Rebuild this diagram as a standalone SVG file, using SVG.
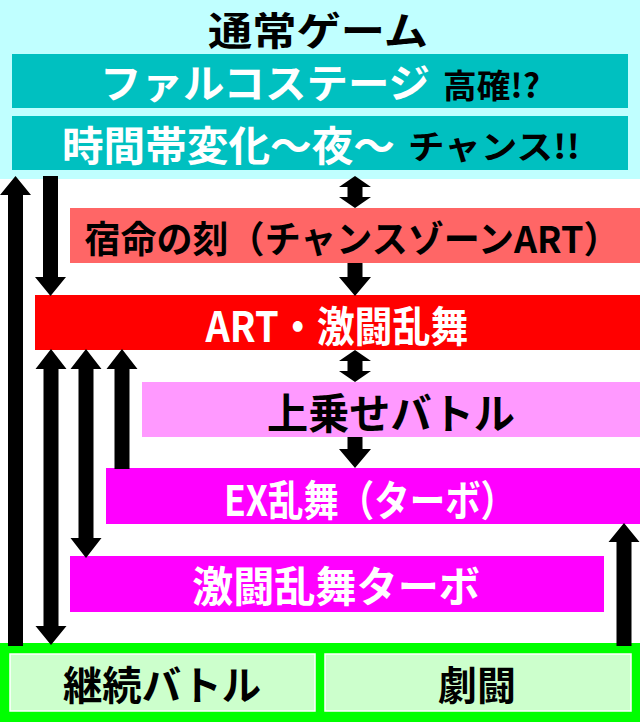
<svg xmlns="http://www.w3.org/2000/svg" width="640" height="722" viewBox="0 0 640 722">
<style>
text{font-family:"Noto Sans CJK JP","Noto Sans",sans-serif;font-weight:700;dominant-baseline:central}
.w{fill:#ffffff}
.b{fill:#000000}
.c{text-anchor:middle}
.arr{fill:#000000}
</style>
<rect x="0" y="0" width="640" height="722" fill="#ffffff"/>
<g id="normal-game">
<rect x="0" y="0" width="640" height="179" fill="#c0ffff"/>
<text class="b c" x="318" y="28" font-size="39" textLength="220" lengthAdjust="spacingAndGlyphs">通常ゲーム</text>
</g>
<g id="falco-stage">
<rect x="12" y="54" width="616" height="54" fill="#00c0c0"/>
<text class="w" x="100" y="81" font-size="40" textLength="330" lengthAdjust="spacingAndGlyphs">ファルコステージ</text>
<text class="b" x="443" y="84" font-size="33" textLength="97" lengthAdjust="spacingAndGlyphs">高確!?</text>
</g>
<g id="night">
<rect x="12" y="116" width="616" height="54" fill="#00c0c0"/>
<text class="w" x="62" y="143" font-size="41" textLength="333" lengthAdjust="spacingAndGlyphs">時間帯変化～夜～</text>
<text class="b" x="408" y="145" font-size="33" textLength="172" lengthAdjust="spacingAndGlyphs">チャンス!!</text>
</g>
<g id="shukumei">
<rect x="70" y="208" width="570" height="55" fill="#ff6666"/>
<text class="b c" x="352" y="237" font-size="37" textLength="535" lengthAdjust="spacingAndGlyphs">宿命の刻（チャンスゾーンART）</text>
</g>
<g id="art">
<rect x="35" y="295" width="605" height="55" fill="#ff0000"/>
<text class="w c" x="337" y="323" font-size="42" textLength="263" lengthAdjust="spacingAndGlyphs">ART・激闘乱舞</text>
</g>
<g id="uwanose">
<rect x="142" y="382" width="498" height="55" fill="#ff99ff"/>
<text class="b c" x="391" y="410" font-size="42" textLength="248" lengthAdjust="spacingAndGlyphs">上乗せバトル</text>
</g>
<g id="ex">
<rect x="106" y="468" width="534" height="56" fill="#ff00ff"/>
<text class="w c" x="370" y="497" font-size="42" textLength="292" lengthAdjust="spacingAndGlyphs">EX乱舞（ターボ）</text>
</g>
<g id="turbo">
<rect x="70" y="556" width="534" height="56" fill="#ff00ff"/>
<text class="w c" x="336" y="583" font-size="42" textLength="288" lengthAdjust="spacingAndGlyphs">激闘乱舞ターボ</text>
</g>
<rect x="0" y="643" width="640" height="79" fill="#00ff00"/>
<g id="keizoku">
<rect x="10" y="654" width="305" height="57" fill="#ccffcc" stroke="#ffffff" stroke-width="1.5"/>
<text class="b c" x="162" y="683" font-size="40" textLength="198" lengthAdjust="spacingAndGlyphs">継続バトル</text>
</g>
<g id="gekito">
<rect x="325" y="654" width="306" height="57" fill="#ccffcc" stroke="#ffffff" stroke-width="1.5"/>
<text class="b c" x="477" y="683" font-size="40" textLength="78" lengthAdjust="spacingAndGlyphs">劇闘</text>
</g>
<g id="connectors" class="arr">
<path d="M15.5,176 L31,195 L23,195 L23,646 L8,646 L8,195 L0,195 Z"/>
<path d="M43,176 L58,176 L58,277 L66,277 L50.5,296 L35,277 L43,277 Z"/>
<path d="M355,176 L371,187 L362.5,187 L362.5,197 L371,197 L355,208 L339,197 L347.5,197 L347.5,187 L339,187 Z"/>
<path d="M347.5,263 L362.5,263 L362.5,277 L371,277 L355,296 L339,277 L347.5,277 Z"/>
<path d="M355,350 L371,361 L362.5,361 L362.5,371 L371,371 L355,382 L339,371 L347.5,371 L347.5,361 L339,361 Z"/>
<path d="M347.5,437 L362.5,437 L362.5,449 L371,449 L355,468 L339,449 L347.5,449 Z"/>
<path d="M51,349 L66.5,369 L58.5,369 L58.5,626 L66.5,626 L51,645 L35.5,626 L43.5,626 L43.5,369 L35.5,369 Z"/>
<path d="M86,349 L101.5,369 L93.5,369 L93.5,538 L101.5,538 L86,558 L70.5,538 L78.5,538 L78.5,369 L70.5,369 Z"/>
<path d="M122,349 L137.5,369 L129.5,369 L129.5,469 L114.5,469 L114.5,369 L106.5,369 Z"/>
<path d="M624,523 L639.5,542 L631.5,542 L631.5,646 L616.5,646 L616.5,542 L608.5,542 Z"/>
</g>
</svg>
